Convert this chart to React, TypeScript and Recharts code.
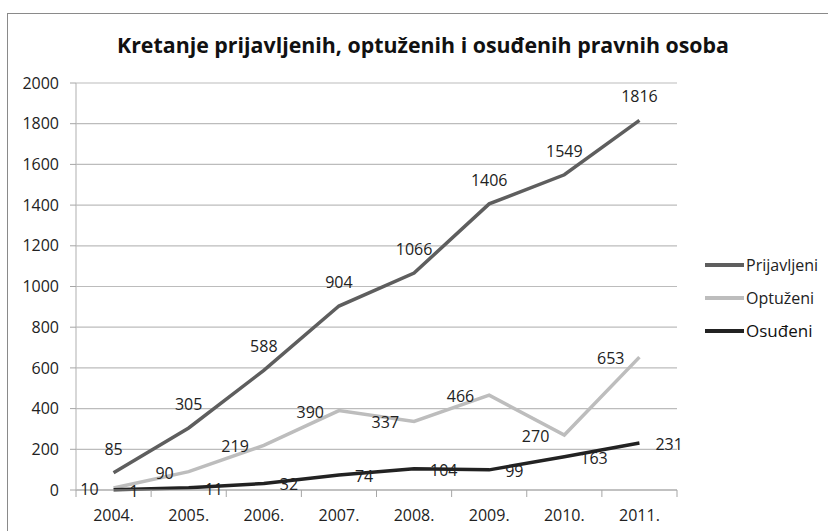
import React from 'react';
import { LineChart, Line, XAxis, YAxis, CartesianGrid, LabelList } from 'recharts';

const years = ['2004.', '2005.', '2006.', '2007.', '2008.', '2009.', '2010.', '2011.'];
const prijavljeni = [85, 305, 588, 904, 1066, 1406, 1549, 1816];
const optuzeni = [10, 90, 219, 390, 337, 466, 270, 653];
const osudeni = [1, 11, 32, 74, 104, 99, 163, 231];
const yTicks = [0, 200, 400, 600, 800, 1000, 1200, 1400, 1600, 1800, 2000];

const data = years.map((year, i) => ({
  year,
  prijavljeni: prijavljeni[i],
  optuzeni: optuzeni[i],
  osudeni: osudeni[i],
}));

const W = 828;
const H = 531;
const LEFT = 76;
const RIGHT = 151;
const TOP = 83;
const BOTTOM = 41;
const BAND = (W - LEFT - RIGHT) / years.length;
const FONT = '"Open Sans", "Noto Sans", sans-serif';
const TEXT = '#222222';

const series = [
  { key: 'prijavljeni', name: 'Prijavljeni', color: '#5e5e5e', pos: 'top' },
  { key: 'optuzeni', name: 'Optuženi', color: '#bdbdbd', pos: 'left' },
  { key: 'osudeni', name: 'Osuđeni', color: '#222222', pos: 'right' },
];

const makeLabel = (pos: string) => (props: any) => {
  const { x, y, value } = props;
  if (x == null || y == null) return null;
  let tx = x;
  let ty = y;
  let anchor: 'middle' | 'end' | 'start' = 'middle';
  if (pos === 'top') {
    ty = y - 24;
  } else if (pos === 'left') {
    tx = x - 15;
    ty = y + 1;
    anchor = 'end';
  } else {
    tx = x + 16;
    ty = y + 1;
    anchor = 'start';
  }
  return (
    <text x={tx} y={ty} textAnchor={anchor} dominantBaseline="central"
      fontFamily={FONT} fontSize={16} fill={TEXT}>
      {value}
    </text>
  );
};

const XTick = (props: any) => {
  const { x, y, payload, index } = props;
  return (
    <g>
      <line x1={x - BAND / 2} x2={x - BAND / 2} y1={y} y2={y + 7} stroke="#a6a6a6" />
      {index === years.length - 1 && (
        <line x1={x + BAND / 2} x2={x + BAND / 2} y1={y} y2={y + 7} stroke="#a6a6a6" />
      )}
      <text x={x} y={y + 25} textAnchor="middle" dominantBaseline="central"
        fontFamily={FONT} fontSize={16} fill={TEXT}>
        {payload.value}
      </text>
    </g>
  );
};

const LegendBox = () => (
  <div style={{ position: 'absolute', left: 705, top: 249, fontFamily: FONT }}>
    {series.map((s, i) => (
      <div key={s.key} style={{ display: 'flex', alignItems: 'center', height: i === 0 ? 32 : 33 }}>
        <div style={{ width: 39, height: 4, background: s.color, marginRight: 2 }} />
        <span style={{
          fontSize: s.key === 'osudeni' ? 17 : 16,
          color: s.key === 'osudeni' ? '#111' : TEXT,
          lineHeight: 1,
        }}>{s.name}</span>
      </div>
    ))}
  </div>
);

export default function App() {
  return (
    <div style={{ position: 'absolute', left: 0, top: 0, width: W, height: H, background: '#fff', overflow: 'hidden' }}>
      <div style={{
        position: 'absolute', left: 7, top: 13, width: 900, height: 600,
        border: '1.5px solid #8a8a8a', boxSizing: 'border-box',
      }} />
      <svg width={W} height={70} style={{ position: 'absolute', left: 0, top: 0 }}>
        <text x={423} y={53} textAnchor="middle" fontFamily={FONT} fontWeight={700}
          fontSize={21} fill="#111" textLength={612} lengthAdjust="spacingAndGlyphs">
          Kretanje prijavljenih, optuženih i osuđenih pravnih osoba
        </text>
      </svg>
      <div style={{ position: 'absolute', left: 0, top: 0 }}>
        <LineChart width={W} height={H} data={data}
          margin={{ top: TOP, right: RIGHT, left: LEFT - 60, bottom: BOTTOM - 30 }}>
          <CartesianGrid vertical={false} stroke="#bcbcbc" strokeWidth={1.2} />
          <XAxis dataKey="year" height={30} tick={<XTick />} tickLine={false} tickSize={0} tickMargin={0}
            axisLine={{ stroke: '#a6a6a6', strokeWidth: 1.2 }} padding={{ left: BAND / 2, right: BAND / 2 }}
            interval={0} />
          <YAxis width={60} domain={[0, 2000]} ticks={yTicks} tickSize={6} tickMargin={11}
            tick={{ fontFamily: FONT, fontSize: 16, fill: TEXT }}
            tickLine={{ stroke: '#a6a6a6' }} axisLine={{ stroke: '#bcbcbc', strokeWidth: 1.2 }} />
          {series.map((s) => (
            <Line key={s.key} type="linear" dataKey={s.key} name={s.name} stroke={s.color}
              strokeWidth={3.5} dot={false} isAnimationActive={false}>
              <LabelList dataKey={s.key} content={makeLabel(s.pos)} />
            </Line>
          ))}
        </LineChart>
      </div>
      <LegendBox />
    </div>
  );
}
